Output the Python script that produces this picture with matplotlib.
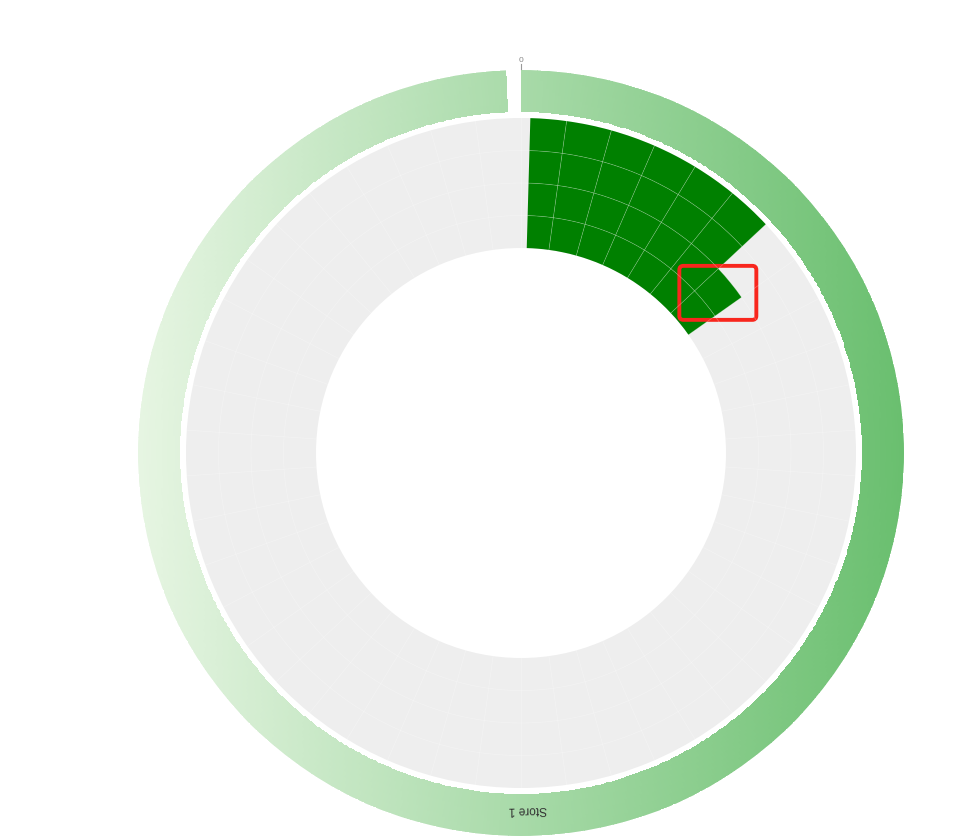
import numpy as np
import matplotlib
matplotlib.use('Agg')
import matplotlib.pyplot as plt
from matplotlib.colors import LinearSegmentedColormap
from matplotlib.patches import FancyBboxPatch
from matplotlib.transforms import ScaledTranslation

# data
store = 'Store 1'
angle_label = '0'
n_slots = 46
# filled slots per ring, innermost ring first
ring_1 = [1, 1, 1, 1, 1, 1, 1]
ring_2 = [1, 1, 1, 1, 1, 1, 1]
ring_3 = [1, 1, 1, 1, 1, 1]
ring_4 = [1, 1, 1, 1, 1, 1]
rings = [ring_1, ring_2, ring_3, ring_4]
highlight_ring = 1
highlight_slot = 6

# layout (radial units == pixels)
HOLE = 205
ROW_H = 32.5
BAND_IN, BAND_OUT = 341, 383
RMAX = 383
START_PAD = np.deg2rad(1.6)
BAND_GAP = np.deg2rad(2.2)

fig = plt.figure(figsize=(9.55, 8.38), dpi=100)
cx, cy = 521, 838 - 453
ax = fig.add_axes([(cx - RMAX) / 955, (cy - RMAX) / 838, 2 * RMAX / 955, 2 * RMAX / 838],
                  projection='polar')
ax.set_theta_zero_location('N')
ax.set_theta_direction(-1)
ax.set_ylim(0, RMAX)
ax.axis('off')

# outer band with horizontal gradient
band_cmap = LinearSegmentedColormap.from_list('band', ['#e6f5e2', '#6abf6f'])
band_end = 2 * np.pi - BAND_GAP
th = np.linspace(0, band_end, 721)
rr = np.linspace(BAND_IN, BAND_OUT, 17)
T, R = np.meshgrid(th, rr)
Tc = (T[:-1, :-1] + T[1:, 1:]) / 2
Rc = (R[:-1, :-1] + R[1:, 1:]) / 2
xpos = (Rc * np.sin(Tc) + RMAX) / (2 * RMAX)
ax.pcolormesh(T, R, xpos, cmap=band_cmap, vmin=0, vmax=1, shading='flat',
              antialiased=False, linewidth=0)

# gray background ring
ax.bar(0, 4 * ROW_H, width=2 * np.pi, bottom=HOLE, color='#eeeeee', linewidth=0, align='edge')

# filled cells
w = 2 * np.pi / n_slots
for i, ring in enumerate(rings):
    for j, v in enumerate(ring):
        if not v:
            continue
        left = j * w + (START_PAD if j == 0 else 0)
        ax.bar(left, ROW_H, width=(j + 1) * w - left, bottom=HOLE + i * ROW_H,
               color='#008000', linewidth=0, align='edge')

# grid lines
for k in range(n_slots):
    ax.plot([k * w, k * w], [HOLE, HOLE + 4 * ROW_H], color='white', alpha=0.3, lw=0.5)
circ = np.linspace(0, 2 * np.pi, 500)
for i in range(1, 4):
    ax.plot(circ, np.full_like(circ, HOLE + i * ROW_H), color='white', alpha=0.3, lw=0.5)

# highlight box
tc = (highlight_slot + 0.5) * w
rc = HOLE + (highlight_ring + 0.5) * ROW_H
trans = fig.dpi_scale_trans + ScaledTranslation(tc, rc, ax.transData)
box = FancyBboxPatch((-0.385, -0.27), 0.77, 0.54, boxstyle='round,pad=0,rounding_size=0.04',
                     transform=trans, fill=False, ec='#f8261d', lw=2.8, clip_on=False)
ax.add_patch(box)

# labels
ax.plot([0, 0], [RMAX + 1, RMAX + 6], color='#999999', lw=0.8, clip_on=False)
ax.text(0, RMAX + 9, angle_label, ha='center', va='center', fontsize=6,
        color='#888888', family='Liberation Sans', clip_on=False)
mid = band_end / 2
ax.text(mid, 356, store, rotation=180 - np.rad2deg(mid - np.pi), ha='center', va='center',
        fontsize=8.6, color='#333333', family='Liberation Sans')

fig.savefig('out.png', dpi=100)
